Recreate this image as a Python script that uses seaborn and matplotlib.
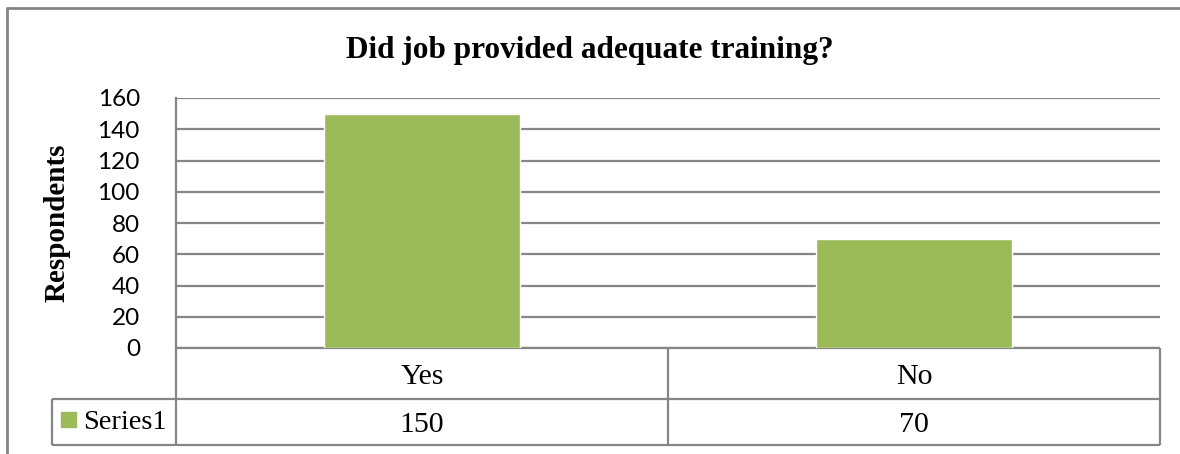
import matplotlib
matplotlib.use("Agg")
import matplotlib.pyplot as plt
import matplotlib.lines as mlines
import matplotlib.patches as mpatches
import matplotlib.transforms as mtrans
import pandas as pd
import seaborn as sns

# data
categories = ["Yes", "No"]
respondents = [150, 70]
series_name = "Series1"
title = "Did job provided adequate training?"
y_label = "Respondents"
y_ticks = [0, 20, 40, 60, 80, 100, 120, 140, 160]

bar_green = "#9BBB59"
grid_grey = "#868686"
serif = "Liberation Serif"

sns.set_style("white")
plt.rcParams["font.family"] = ["Lato", "DejaVu Sans"]
plt.rcParams["text.color"] = "black"

df = pd.DataFrame({"answer": categories, "count": respondents})

fig = plt.figure(figsize=(11.8, 4.54), dpi=100)
ax = fig.add_axes([176 / 1180, 1 - 348 / 454, 984 / 1180, 250 / 454])

sns.barplot(data=df, x="answer", y="count", order=categories, color=bar_green,
            saturation=1, width=0.4, ax=ax, zorder=3)

ax.set_xlim(-0.5, len(categories) - 0.5)
ax.set_ylim(y_ticks[0], y_ticks[-1])
ax.set_yticks(y_ticks)
ax.tick_params(axis="y", length=0, pad=26, labelsize=17.5, colors="black")
ax.set_xticks([])
ax.set_xlabel("")
ax.set_ylabel("")
ax.yaxis.grid(True, color=grid_grey, lw=1.6)
ax.set_axisbelow(True)
for side in ["top", "right", "bottom"]:
    ax.spines[side].set_visible(False)
ax.spines["left"].set_color(grid_grey)
ax.spines["left"].set_linewidth(1.6)

# data table under the axis
tr = mtrans.blended_transform_factory(ax.transData, ax.transAxes)
tra = ax.transAxes
row1, row2, row3 = 0.0, -0.204, -0.388
legend_left = (52 - 176) / 984
kw = dict(color=grid_grey, lw=1.6, clip_on=False, solid_capstyle="butt")

ax.plot([0, 1], [row1, row1], transform=tra, **kw)
ax.plot([legend_left, 1], [row2, row2], transform=tra, **kw)
ax.plot([legend_left, 1], [row3, row3], transform=tra, **kw)
ax.plot([0, 0], [row1, row3], transform=tra, **kw)
ax.plot([legend_left, legend_left], [row2, row3], transform=tra, **kw)
for i in range(len(categories)):
    ax.plot([i + 0.5, i + 0.5], [row1, row3], transform=tr, **kw)

base1 = -(384 - 348) / 250
base2 = -(432 - 348) / 250
for i, (cat, val) in enumerate(zip(categories, respondents)):
    ax.text(i, base1, cat, transform=tr, ha="center", va="baseline",
            family=serif, fontsize=21.5)
    ax.text(i, base2, str(val), transform=tr, ha="center", va="baseline",
            family=serif, fontsize=21.5)

ax.add_patch(mpatches.Rectangle((61 / 1180, 1 - 427 / 454), 15 / 1180, 15 / 454,
                                transform=fig.transFigure, color=bar_green,
                                clip_on=False))
fig.text(83 / 1180, 1 - 429 / 454, series_name, family=serif, fontsize=20.5,
         ha="left", va="baseline")

# title and axis label
fig.text(0.5, 1 - 58 / 454, title, family=serif, fontsize=22.5, fontweight="bold",
         ha="center", va="baseline")
fig.text(57 / 1180, 1 - 223 / 454, y_label, family=serif, fontsize=21,
         fontweight="bold", rotation=90, ha="center", va="center")

# outer chart frame (cut off at right and bottom)
fig.add_artist(mlines.Line2D([7 / 1180, 7 / 1180], [0, 1 - 8 / 454],
                             transform=fig.transFigure, color=grid_grey, lw=2))
fig.add_artist(mlines.Line2D([7 / 1180, 1], [1 - 8 / 454, 1 - 8 / 454],
                             transform=fig.transFigure, color=grid_grey, lw=2))

fig.savefig("out.png", dpi=100, facecolor="white")
